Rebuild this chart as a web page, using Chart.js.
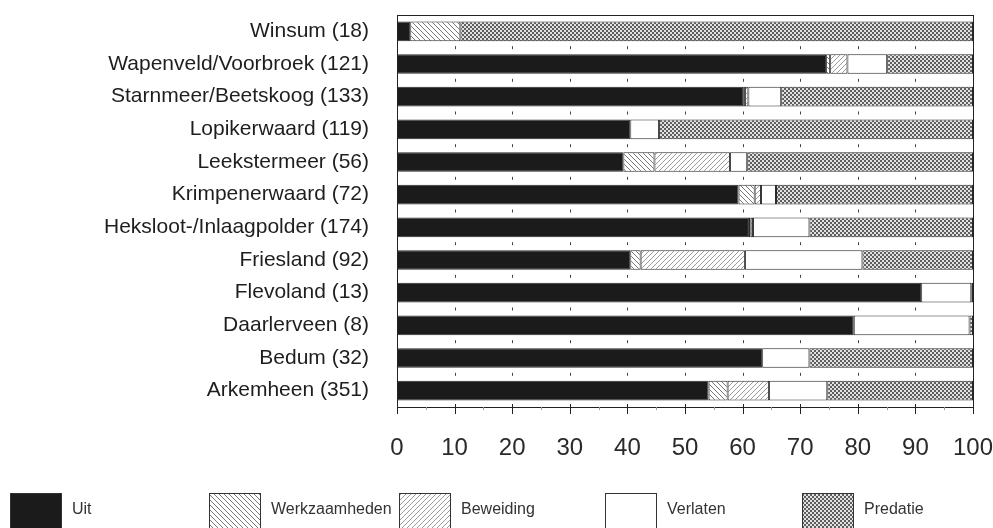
<!DOCTYPE html>
<html>
<head>
<meta charset="utf-8">
<script src="https://cdn.jsdelivr.net/npm/chart.js@4.4.1/dist/chart.umd.min.js"></script>
<style>
  html, body { margin: 0; padding: 0; background: #fff; }
  #wrap { width: 993px; height: 528px; position: relative; }
</style>
</head>
<body>
<div id="wrap"><canvas id="c" width="993" height="528"></canvas></div>
<script>
// ---- data ----
const categories = ['Winsum (18)', 'Wapenveld/Voorbroek (121)', 'Starnmeer/Beetskoog (133)', 'Lopikerwaard (119)',
  'Leekstermeer (56)', 'Krimpenerwaard (72)', 'Heksloot-/Inlaagpolder (174)', 'Friesland (92)',
  'Flevoland (13)', 'Daarlerveen (8)', 'Bedum (32)', 'Arkemheen (351)'];
const seriesNames = ['Uit', 'Werkzaamheden', 'Beweiding', 'Verlaten', 'Predatie'];
const uit     = [2.3, 74.5, 60.1, 40.5, 39.3, 59.3, 61.1, 40.5, 91.0, 79.3, 63.4, 54.1];
const werk    = [8.7, 0.7, 0.3, 0, 5.4, 2.8, 0.3, 1.8, 0, 0, 0, 3.3];
const bew     = [0, 3.0, 0.6, 0, 13.1, 1.1, 0.4, 18.1, 0, 0, 0, 7.2];
const verl    = [0, 6.9, 5.7, 5.0, 3.0, 2.6, 9.8, 20.4, 8.7, 20.1, 8.2, 10.1];
const pred    = [89.0, 14.9, 33.3, 54.5, 39.2, 34.2, 28.4, 19.2, 0.3, 0.6, 28.4, 25.3];
const xTicks  = [0, 10, 20, 30, 40, 50, 60, 70, 80, 90, 100];

// ---- patterns ----
function makePattern(size, draw) {
  const c = document.createElement('canvas');
  c.width = size; c.height = size;
  const g = c.getContext('2d');
  draw(g, size);
  return g.createPattern(c, 'repeat');
}
const patWerk = makePattern(5, (g, s) => {
  g.fillStyle = '#fff'; g.fillRect(0, 0, s, s);
  g.strokeStyle = '#555'; g.lineWidth = 0.8;
  g.beginPath();
  g.moveTo(-1, -1); g.lineTo(s + 1, s + 1);
  g.moveTo(-1, s - 1); g.lineTo(1, s + 1);
  g.moveTo(s - 1, -1); g.lineTo(s + 1, 1);
  g.stroke();
});
const patBew = makePattern(5, (g, s) => {
  g.fillStyle = '#fff'; g.fillRect(0, 0, s, s);
  g.strokeStyle = '#808080'; g.lineWidth = 0.8;
  g.beginPath();
  g.moveTo(-1, s + 1); g.lineTo(s + 1, -1);
  g.moveTo(-1, 1); g.lineTo(1, -1);
  g.moveTo(s - 1, s + 1); g.lineTo(s + 1, s - 1);
  g.stroke();
});
const patPred = makePattern(4, (g, s) => {
  g.fillStyle = '#e2e2e2'; g.fillRect(0, 0, s, s);
  g.fillStyle = '#5e5e5e';
  g.fillRect(0, 0, 2, 2); g.fillRect(2, 2, 2, 2);
});
const fills = ['#1b1b1b', patWerk, patBew, '#ffffff', patPred];
const seriesValues = [uit, werk, bew, verl, pred];

const datasets = seriesNames.map((name, i) => ({
  label: name,
  data: seriesValues[i],
  backgroundColor: fills[i],
  borderColor: '#2a2a2a',
  borderWidth: (ctx) => (ctx.raw > 0 ? 1 : 0),
  borderSkipped: false,
  barPercentage: 0.6,
  categoryPercentage: 1.0
}));

function zeroPad(s) {
  s.paddingTop = 0; s.paddingBottom = 0; s.paddingLeft = 0; s.paddingRight = 0;
}

// ---- plugin: frame, inner tick marks, minor ticks, legend ----
const decor = {
  id: 'decor',
  afterDatasetsDraw(chart, args, opts) {
    const { ctx, chartArea: a, scales: { x, y } } = chart;
    ctx.save();
    // frame
    ctx.strokeStyle = '#222'; ctx.lineWidth = 1;
    ctx.strokeRect(Math.round(a.left) + 0.5, Math.round(a.top) + 0.5,
      Math.round(a.right - a.left), Math.round(a.bottom - a.top));
    // inner small tick marks between bars
    ctx.strokeStyle = '#444';
    const n = categories.length;
    for (let i = 0; i < n - 1; i++) {
      const yb = (y.getPixelForValue(i) + y.getPixelForValue(i + 1)) / 2;
      xTicks.forEach(v => {
        if (v === 0 || v === 100) return;
        const px = Math.round(x.getPixelForValue(v)) + 0.5;
        ctx.beginPath(); ctx.moveTo(px, yb - 1.5); ctx.lineTo(px, yb + 1.5); ctx.stroke();
      });
    }
    // minor ticks on x axis
    ctx.strokeStyle = '#999';
    xTicks.forEach(v => {
      if (v === 100) return;
      const px = Math.round(x.getPixelForValue(v + 5)) + 0.5;
      ctx.beginPath(); ctx.moveTo(px, a.bottom); ctx.lineTo(px, a.bottom + 3); ctx.stroke();
    });
    // major ticks crossing axis
    ctx.strokeStyle = '#222';
    xTicks.forEach(v => {
      const px = Math.round(x.getPixelForValue(v)) + 0.5;
      ctx.beginPath(); ctx.moveTo(px, a.bottom - 3); ctx.lineTo(px, a.bottom + 7); ctx.stroke();
    });
    // legend
    const L = opts.legend;
    ctx.font = L.font;
    ctx.textBaseline = 'middle';
    ctx.textAlign = 'left';
    chart.data.datasets.forEach((ds, i) => {
      const bx = L.xs[i];
      ctx.fillStyle = ds.backgroundColor;
      ctx.fillRect(bx, L.top, L.w, L.h);
      ctx.strokeStyle = '#333'; ctx.lineWidth = 1;
      ctx.strokeRect(bx + 0.5, L.top + 0.5, L.w, L.h);
      ctx.fillStyle = '#333';
      ctx.fillText(ds.label, bx + L.textGap, L.textY);
    });
    ctx.restore();
  }
};

new Chart(document.getElementById('c'), {
  type: 'bar',
  data: { labels: categories, datasets },
  options: {
    indexAxis: 'y',
    responsive: false,
    animation: false,
    layout: { padding: { top: 15, right: 20, bottom: 71, left: 0 } },
    plugins: {
      legend: { display: false },
      tooltip: { enabled: false },
      decor: {
        legend: {
          xs: [10, 209, 399, 605, 802],
          top: 493, w: 51, h: 40, textGap: 62, textY: 510,
          font: '16px "Liberation Sans", Arial, sans-serif'
        }
      }
    },
    scales: {
      x: {
        stacked: true,
        min: 0, max: 100,
        afterBuildTicks: (s) => { s.ticks = xTicks.map(v => ({ value: v })); },
        afterFit: (s) => { s.height = 50; zeroPad(s); },
        grid: { display: false, drawOnChartArea: false, drawTicks: false },
        border: { display: true, color: '#222', width: 1 },
        ticks: {
          color: '#2a2a2a',
          padding: 27,
          maxRotation: 0,
          font: { family: '"Liberation Sans", Arial, sans-serif', size: 24 }
        }
      },
      y: {
        stacked: true,
        afterFit: (s) => { s.width = 397; zeroPad(s); },
        grid: { display: false, drawTicks: false },
        border: { display: true, color: '#222', width: 1 },
        ticks: {
          color: '#1e1e1e',
          padding: 28,
          autoSkip: false,
          font: { family: '"Liberation Sans", Arial, sans-serif', size: 21 }
        }
      }
    }
  },
  plugins: [decor]
});
</script>
</body>
</html>
